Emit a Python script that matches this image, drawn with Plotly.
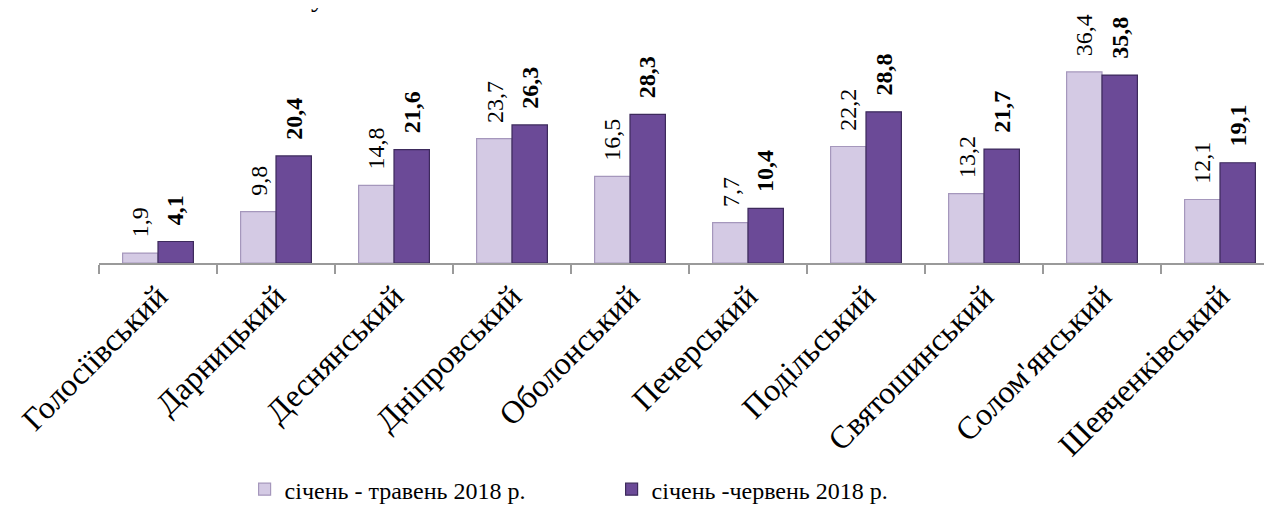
import plotly.graph_objects as go

districts = ["Голосіївський", "Дарницький", "Деснянський", "Дніпровський", "Оболонський",
             "Печерський", "Подільський", "Святошинський", "Солом'янський", "Шевченківський"]
may_2018 = [1.9, 9.8, 14.8, 23.7, 16.5, 7.7, 22.2, 13.2, 36.4, 12.1]
june_2018 = [4.1, 20.4, 21.6, 26.3, 28.3, 10.4, 28.8, 21.7, 35.8, 19.1]
series_names = ["січень - травень 2018 р.", "січень -червень 2018 р."]

def fmt(v):
    return f"{v:.1f}".replace(".", ",")

FONT = "Liberation Serif"
PLOT_W = 1180
CAT_W = PLOT_W / len(districts)
BAR_OFF = CAT_W * 0.6 / 4

fig = go.Figure()
fig.add_trace(go.Bar(
    x=districts, y=may_2018, name=series_names[0],
    marker=dict(color="#D4CAE4", line=dict(color="#A597BC", width=1.2)),
))
fig.add_trace(go.Bar(
    x=districts, y=june_2018, name=series_names[1],
    marker=dict(color="#6B4A97", line=dict(color="#3D2A5C", width=1.2)),
))

annotations = []
for d, v in zip(districts, may_2018):
    annotations.append(dict(x=d, y=v, xref="x", yref="y", text=fmt(v), showarrow=False,
                            textangle=-90, xanchor="center", yanchor="bottom",
                            xshift=-BAR_OFF, yshift=14,
                            font=dict(family=FONT, size=24, color="black")))
for d, v in zip(districts, june_2018):
    annotations.append(dict(x=d, y=v, xref="x", yref="y", text="<b>" + fmt(v) + "</b>",
                            showarrow=False, textangle=-90, xanchor="center", yanchor="bottom",
                            xshift=BAR_OFF, yshift=14,
                            font=dict(family=FONT, size=24, color="black")))
annotations.append(dict(text="у", xref="paper", yref="paper", x=(318 - 99) / PLOT_W, y=1.025,
                        xanchor="center", yanchor="bottom", showarrow=False,
                        font=dict(family=FONT, size=28, color="black")))

fig.update_layout(
    width=1272, height=514,
    margin=dict(l=91, r=1, t=12, b=259, autoexpand=False),
    paper_bgcolor="white", plot_bgcolor="white",
    barmode="group", bargap=0.4, bargroupgap=0,
    font=dict(family=FONT, color="black"),
    showlegend=True,
    legend=dict(orientation="h", x=0.4344, xanchor="center", y=-0.84, yanchor="top",
                font=dict(family=FONT, size=24, color="black"), entrywidth=322, itemwidth=30,
                traceorder="normal"),
    annotations=annotations,
)
fig.update_xaxes(
    automargin=False,
    showline=True, linecolor="#9A9A9A", linewidth=1.5,
    ticks="outside", tickson="boundaries", ticklen=9, tickcolor="#9A9A9A", tickwidth=1.5,
    tickangle=-45, tickfont=dict(family=FONT, size=32, color="black"),
    showgrid=False,
)
fig.update_yaxes(visible=False, range=[0, 46.3], automargin=False)

fig.write_html("out.html")
